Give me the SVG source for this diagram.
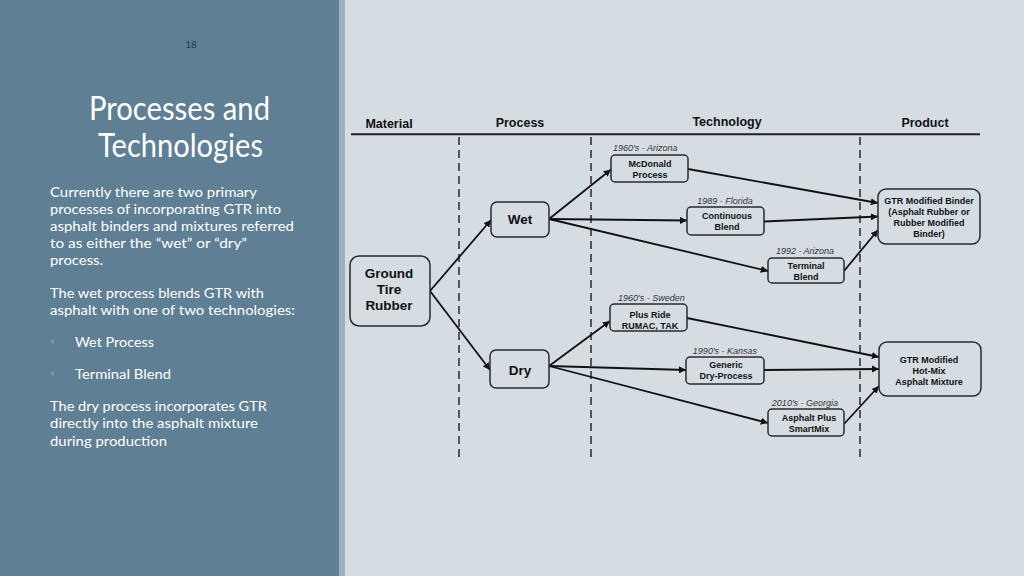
<svg xmlns="http://www.w3.org/2000/svg" width="1024" height="576" viewBox="0 0 1024 576">
<defs>
<style>
.body{font-family:Lato,"Open Sans","Liberation Sans",sans-serif;font-size:14px;fill:#ffffff}
.title{font-family:Lato,"Open Sans","Liberation Sans",sans-serif;font-size:32px;fill:#ffffff}
.hdr{font-family:"Liberation Sans",Arial,sans-serif;font-size:12.5px;font-weight:bold;fill:#111}
.big{font-family:"Liberation Sans",Arial,sans-serif;font-size:13.5px;font-weight:bold;fill:#111;text-anchor:middle}
.sm{font-family:"Liberation Sans",Arial,sans-serif;font-size:9px;font-weight:bold;fill:#111;text-anchor:middle}
.date{font-family:"Liberation Sans",Arial,sans-serif;font-size:9px;font-style:italic;fill:#333}
.box{fill:#d5dde3;stroke:#2a2a2a;stroke-width:1.5}
.dash{stroke:#555;stroke-width:2;stroke-dasharray:8,5;fill:none}
.con line{stroke:#111;stroke-width:1.8;marker-end:url(#arr)}
</style>
<marker id="arr" viewBox="0 0 10 10" refX="10" refY="5" markerWidth="4" markerHeight="4" orient="auto" markerUnits="strokeWidth">
<path d="M0,0 L10,5 L0,10 z" fill="#111"/>
</marker>
</defs>
<rect x="0" y="0" width="1024" height="576" fill="#d5dde3"/>
<rect x="0" y="0" width="339" height="576" fill="#5f7f95"/>
<rect x="339" y="0" width="6" height="576" fill="#9db0bf"/>

<g id="left-text">
<text x="191" y="48" font-family="Lato,'Open Sans',sans-serif" font-size="10" fill="#1f3d55" text-anchor="middle">18</text>
<text class="title" x="89" y="120" textLength="181" lengthAdjust="spacingAndGlyphs">Processes and</text>
<text class="title" x="98" y="157" textLength="165" lengthAdjust="spacingAndGlyphs">Technologies</text>
<text class="body" x="50" y="197" textLength="207" lengthAdjust="spacingAndGlyphs">Currently there are two primary</text>
<text class="body" x="50" y="214" textLength="231" lengthAdjust="spacingAndGlyphs">processes of incorporating GTR into</text>
<text class="body" x="50" y="231" textLength="244" lengthAdjust="spacingAndGlyphs">asphalt binders and mixtures referred</text>
<text class="body" x="50" y="248" textLength="197" lengthAdjust="spacingAndGlyphs">to as either the “wet” or “dry”</text>
<text class="body" x="50" y="265" textLength="53" lengthAdjust="spacingAndGlyphs">process.</text>
<text class="body" x="50" y="298" textLength="214" lengthAdjust="spacingAndGlyphs">The wet process blends GTR with</text>
<text class="body" x="50" y="315" textLength="245" lengthAdjust="spacingAndGlyphs">asphalt with one of two technologies:</text>
<text x="50" y="345" font-family="Lato,sans-serif" font-size="9" fill="#8496a4">•</text>
<text class="body" x="75" y="347" textLength="79" lengthAdjust="spacingAndGlyphs">Wet Process</text>
<text x="50" y="377" font-family="Lato,sans-serif" font-size="9" fill="#8496a4">•</text>
<text class="body" x="75" y="379" textLength="96" lengthAdjust="spacingAndGlyphs">Terminal Blend</text>
<text class="body" x="50" y="411" textLength="217" lengthAdjust="spacingAndGlyphs">The dry process incorporates GTR</text>
<text class="body" x="50" y="428" textLength="208" lengthAdjust="spacingAndGlyphs">directly into the asphalt mixture</text>
<text class="body" x="50" y="446" textLength="117" lengthAdjust="spacingAndGlyphs">during production</text>
</g>

<g id="headers">
<text class="hdr" x="389" y="128" text-anchor="middle">Material</text>
<text class="hdr" x="520" y="127" text-anchor="middle">Process</text>
<text class="hdr" x="727" y="126" text-anchor="middle">Technology</text>
<text class="hdr" x="925" y="127" text-anchor="middle">Product</text>
<line x1="351" y1="134.3" x2="980" y2="134.3" stroke="#222" stroke-width="2"/>
<line class="dash" x1="459" y1="137" x2="459" y2="460"/>
<line class="dash" x1="591" y1="137" x2="591" y2="460"/>
<line class="dash" x1="860" y1="137" x2="860" y2="460"/>
</g>

<g id="connectors" class="con">
<line x1="430" y1="291" x2="491" y2="220"/>
<line x1="430" y1="291" x2="490" y2="370"/>
<line x1="549" y1="219" x2="611" y2="169.5"/>
<line x1="549" y1="219" x2="687" y2="220.5"/>
<line x1="549" y1="219" x2="768" y2="271"/>
<line x1="688" y1="169" x2="878" y2="203"/>
<line x1="764" y1="221.5" x2="878" y2="216.5"/>
<line x1="844" y1="271" x2="878" y2="230"/>
<line x1="549" y1="366" x2="610" y2="321"/>
<line x1="549" y1="366" x2="686" y2="370"/>
<line x1="549" y1="366" x2="768" y2="423"/>
<line x1="687" y1="318" x2="879" y2="357"/>
<line x1="764" y1="370" x2="879" y2="369"/>
<line x1="844.5" y1="423.5" x2="879" y2="386"/>
</g>

<g id="ground-tire-rubber">
<rect class="box" x="350" y="256" width="80" height="70" rx="9"/>
<text class="big" x="389" y="278">Ground</text>
<text class="big" x="389" y="294">Tire</text>
<text class="big" x="389" y="310">Rubber</text>
</g>
<g id="wet">
<rect class="box" x="491" y="202" width="58" height="35" rx="6"/>
<text class="big" x="520" y="224">Wet</text>
</g>
<g id="dry">
<rect class="box" x="490" y="350" width="59" height="38" rx="6"/>
<text class="big" x="520" y="375">Dry</text>
</g>
<g id="mcdonald">
<text class="date" x="613" y="151">1960's - Arizona</text>
<rect class="box" x="611" y="155" width="77" height="27" rx="4"/>
<text class="sm" x="650" y="167">McDonald</text>
<text class="sm" x="650" y="178">Process</text>
</g>
<g id="continuous-blend">
<text class="date" x="725" y="204" text-anchor="middle">1989 - Florida</text>
<rect class="box" x="687" y="207" width="77" height="28" rx="4"/>
<text class="sm" x="727" y="219">Continuous</text>
<text class="sm" x="727" y="230">Blend</text>
</g>
<g id="terminal-blend">
<text class="date" x="805" y="254" text-anchor="middle">1992 - Arizona</text>
<rect class="box" x="768" y="258" width="76" height="25" rx="4"/>
<text class="sm" x="806" y="269">Terminal</text>
<text class="sm" x="806" y="280">Blend</text>
</g>
<g id="gtr-binder">
<rect class="box" x="878" y="189" width="102" height="55" rx="8"/>
<text class="sm" x="929" y="204">GTR Modified Binder</text>
<text class="sm" x="929" y="215">(Asphalt Rubber or</text>
<text class="sm" x="929" y="226">Rubber Modified</text>
<text class="sm" x="929" y="237">Binder)</text>
</g>
<g id="plus-ride">
<text class="date" x="618" y="301">1960's - Sweden</text>
<rect class="box" x="610" y="304" width="77" height="27" rx="4"/>
<text class="sm" x="650" y="318">Plus Ride</text>
<text class="sm" x="650" y="329">RUMAC, TAK</text>
</g>
<g id="generic-dry">
<text class="date" x="725" y="354" text-anchor="middle">1990's - Kansas</text>
<rect class="box" x="686" y="357" width="78" height="27" rx="4"/>
<text class="sm" x="726" y="368">Generic</text>
<text class="sm" x="726" y="379">Dry-Process</text>
</g>
<g id="asphalt-plus">
<text class="date" x="805" y="406" text-anchor="middle">2010's - Georgia</text>
<rect class="box" x="768" y="409" width="76" height="27" rx="4"/>
<text class="sm" x="809" y="421">Asphalt Plus</text>
<text class="sm" x="809" y="432">SmartMix</text>
</g>
<g id="gtr-hotmix">
<rect class="box" x="879" y="342" width="102" height="54" rx="8"/>
<text class="sm" x="929" y="363">GTR Modified</text>
<text class="sm" x="929" y="374">Hot-Mix</text>
<text class="sm" x="929" y="385">Asphalt  Mixture</text>
</g>
</svg>
